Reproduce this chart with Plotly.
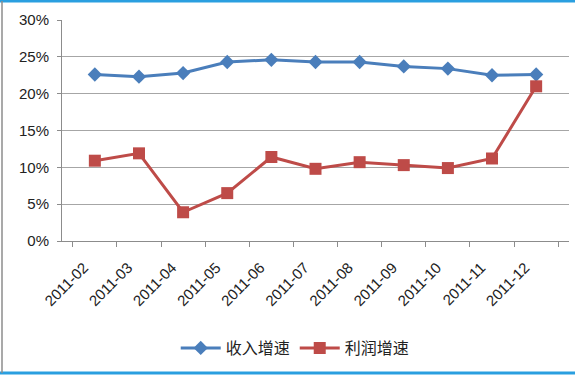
import plotly.graph_objects as go

months = ["2011-02", "2011-03", "2011-04", "2011-05", "2011-06", "2011-07",
          "2011-08", "2011-09", "2011-10", "2011-11", "2011-12"]
revenue_growth = [0.226, 0.223, 0.228, 0.243, 0.246, 0.243, 0.243, 0.237, 0.234, 0.225, 0.226]
profit_growth = [0.109, 0.119, 0.039, 0.065, 0.114, 0.098, 0.107, 0.103, 0.099, 0.112, 0.210]
series_names = ["收入增速", "利润增速"]

fig = go.Figure()
fig.add_trace(go.Scatter(
    x=months, y=revenue_growth, name=series_names[0], mode="lines+markers",
    line=dict(color="#4a7ebb", width=3),
    marker=dict(symbol="diamond", size=11, color="#4a7ebb"),
))
fig.add_trace(go.Scatter(
    x=months, y=profit_growth, name=series_names[1], mode="lines+markers",
    line=dict(color="#be4b48", width=3),
    marker=dict(symbol="square", size=12, color="#be4b48"),
))

H = 221.0
W = 507.0
fig.update_layout(
    width=575, height=375,
    margin=dict(l=62, r=6, t=20, b=134, autoexpand=False),
    paper_bgcolor="white", plot_bgcolor="white",
    font=dict(family="Liberation Sans, Arial, sans-serif", size=13, color="#222"),
    showlegend=True,
    legend=dict(orientation="h", x=0.46, xanchor="center", y=-(107/H), yanchor="middle",
                font=dict(family="Noto Sans CJK SC", size=16, color="#222"),
                itemwidth=40),
    xaxis=dict(type="category", showgrid=False, showline=True, linecolor="#8c8c8c",
               ticks="outside", tickson="boundaries", ticklen=5, tickcolor="#8c8c8c",
               tickangle=-45, tickfont=dict(size=15), automargin=False,
               ticklabelshift=-11, ticklabelstandoff=11),
    yaxis=dict(range=[0, 0.30], dtick=0.05, tickformat=".0%", showgrid=True,
               gridcolor="#a6a6a6", gridwidth=1, showline=True, linecolor="#8c8c8c",
               ticks="outside", ticklen=4, tickcolor="#8c8c8c", zeroline=False,
               tickfont=dict(size=15), automargin=False, ticklabelstandoff=5),
    shapes=[
        dict(type="line", xref="paper", yref="paper", x0=-0.2, x1=1.1, y0=1.0 + 19/H, y1=1.0 + 19/H,
             line=dict(color="#2a9fe0", width=3)),
        dict(type="line", xref="paper", yref="paper", x0=-0.2, x1=1.1, y0=-(132/H), y1=-(132/H),
             line=dict(color="#2a9fe0", width=3)),
        dict(type="line", xref="paper", yref="paper", x0=-60/W, x1=-60/W, y0=-(132/H), y1=1.0 + 19/H,
             line=dict(color="#8c8c8c", width=1.5)),
    ],
)

fig.write_html("out.html", config={"displayModeBar": False},
               post_script="document.body.style.margin='0';document.body.style.padding='0';")
